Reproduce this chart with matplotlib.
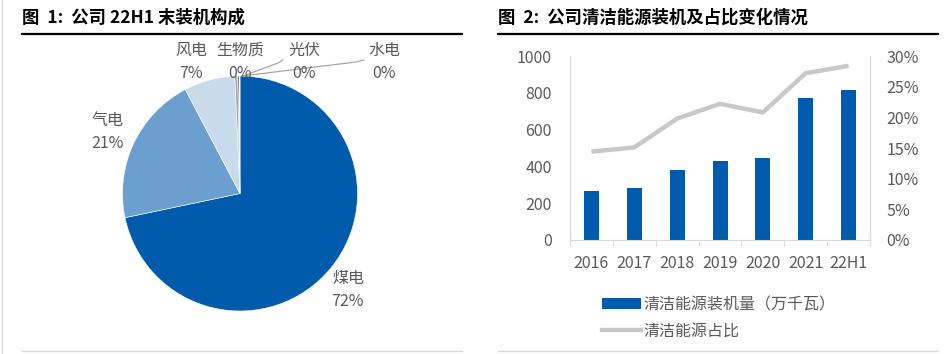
import numpy as np
import matplotlib
matplotlib.use("Agg")
from matplotlib import pyplot as plt
from matplotlib.patches import Patch
from matplotlib.lines import Line2D

plt.rcParams['font.family'] = ['Noto Sans CJK SC', 'DejaVu Sans']

# left chart: installed capacity mix at end of 22H1 (%)
mix_names = ['煤电', '气电', '风电', '生物质', '光伏', '水电']
mix_share = [71.7, 20.6, 7.0, 0.4, 0.2, 0.1]
mix_colors = ['#005BAC', '#6A9FD0', '#C8DAEC', '#A6A6A6', '#7F7F7F', '#D0D0D0']

# right chart: clean energy capacity and share
years = ['2016', '2017', '2018', '2019', '2020', '2021', '22H1']
clean_cap = [266, 282, 382, 431, 443, 772, 816]
clean_ratio = [0.144, 0.151, 0.198, 0.222, 0.208, 0.272, 0.284]

W, H = 950, 354
fig = plt.figure(figsize=(W / 100, H / 100), dpi=100)
txt = '#595959'
fs = 11.5

# overlay in pixel coords for titles and rules
ov = fig.add_axes([0, 0, 1, 1])
ov.set_xlim(0, W)
ov.set_ylim(H, 0)
ov.axis('off')
ov.text(22, 18, '图  1:  公司 22H1 末装机构成', fontsize=12.5, fontweight='bold',
        va='center', ha='left', color='black')
ov.text(498, 18, '图  2:  公司清洁能源装机及占比变化情况', fontsize=12.5, fontweight='bold',
        va='center', ha='left', color='black')
ov.plot([22, 462], [34, 34], color='black', lw=1.6)
ov.plot([498, 938], [34, 34], color='black', lw=1.6)
ov.plot([22, 462], [351, 351], color='#D9D9D9', lw=1)
ov.plot([498, 938], [351, 351], color='#D9D9D9', lw=1)
ov.plot([2, 2], [0, H], color='#D9D9D9', lw=1)

# pie in pixel coords (y up)
pa = fig.add_axes([0, 0, 475 / W, 1])
cx, cy, r = 240, H - 193.5, 117.5
pa.pie(mix_share, colors=mix_colors, startangle=90, counterclock=False,
       center=(cx, cy), radius=r,
       wedgeprops=dict(edgecolor='white', linewidth=0.4))
pa.set_xlim(0, 475)
pa.set_ylim(0, H)
pa.axis('off')

label_pos = {'煤电': (348, 279), '气电': (108, 120), '风电': (191, 50),
             '生物质': (240, 50), '光伏': (304, 50), '水电': (384, 50)}
for name, share in zip(mix_names, mix_share):
    x, y = label_pos[name]
    pa.text(x, H - y, name, ha='center', va='center', fontsize=fs, color=txt)
    pa.text(x, H - y - 23, f'{share:.0f}%', ha='center', va='center', fontsize=fs, color=txt)

# leader lines for the tiny slices
pa.plot([283, 278, 243], [H - 60, H - 63, H - 76], color='#A6A6A6', lw=0.9)
pa.plot([364, 356, 242], [H - 60, H - 62, H - 76], color='#A6A6A6', lw=0.9)

# bar + line chart
ax = fig.add_axes([570 / W, (H - 240) / H, 300 / W, 184 / H])
x = np.arange(len(years))
ax.bar(x, clean_cap, width=0.35, color='#005BAC', zorder=2)
ax.set_xlim(-0.5, len(years) - 0.5)
ax.set_ylim(0, 1000)
ax.set_yticks(np.arange(0, 1001, 200))
ax.set_xticks(x)
ax.set_xticklabels(years)
ax.set_xticks(np.arange(-0.5, len(years), 1), minor=True)
ax.tick_params(axis='x', which='major', length=0, pad=11, labelsize=fs, colors=txt)
ax.tick_params(axis='x', which='minor', length=4, color='#D9D9D9', direction='out')
ax.tick_params(axis='y', length=0, pad=13, labelsize=fs, colors=txt)
ax.spines['top'].set_visible(False)
for s in ['left', 'right', 'bottom']:
    ax.spines[s].set_color('#D9D9D9')
    ax.spines[s].set_linewidth(0.8)

ax2 = ax.twinx()
ax2.plot(x, clean_ratio, color='#C8C8C8', lw=3.2, solid_capstyle='butt')
ax2.set_ylim(0, 0.30)
ax2.set_yticks(np.arange(0, 0.301, 0.05))
ax2.set_yticklabels([f'{v:.0f}%' for v in np.arange(0, 31, 5)])
ax2.tick_params(axis='y', length=0, pad=12, labelsize=fs, colors=txt)
for s in ['top', 'left', 'bottom']:
    ax2.spines[s].set_visible(False)
ax2.spines['right'].set_color('#D9D9D9')
ax2.spines['right'].set_linewidth(0.8)

handles = [Patch(facecolor='#005BAC', label='清洁能源装机量（万千瓦）'),
           Line2D([0], [0], color='#C8C8C8', lw=3.2, label='清洁能源占比')]
fig.legend(handles=handles, loc='upper left', bbox_to_anchor=(588 / W, 1 - 282 / H),
           frameon=False, fontsize=fs, handlelength=2.4, handleheight=0.7,
           handletextpad=0.2, labelspacing=0.6, labelcolor=txt)

fig.savefig('out.png', dpi=100)
